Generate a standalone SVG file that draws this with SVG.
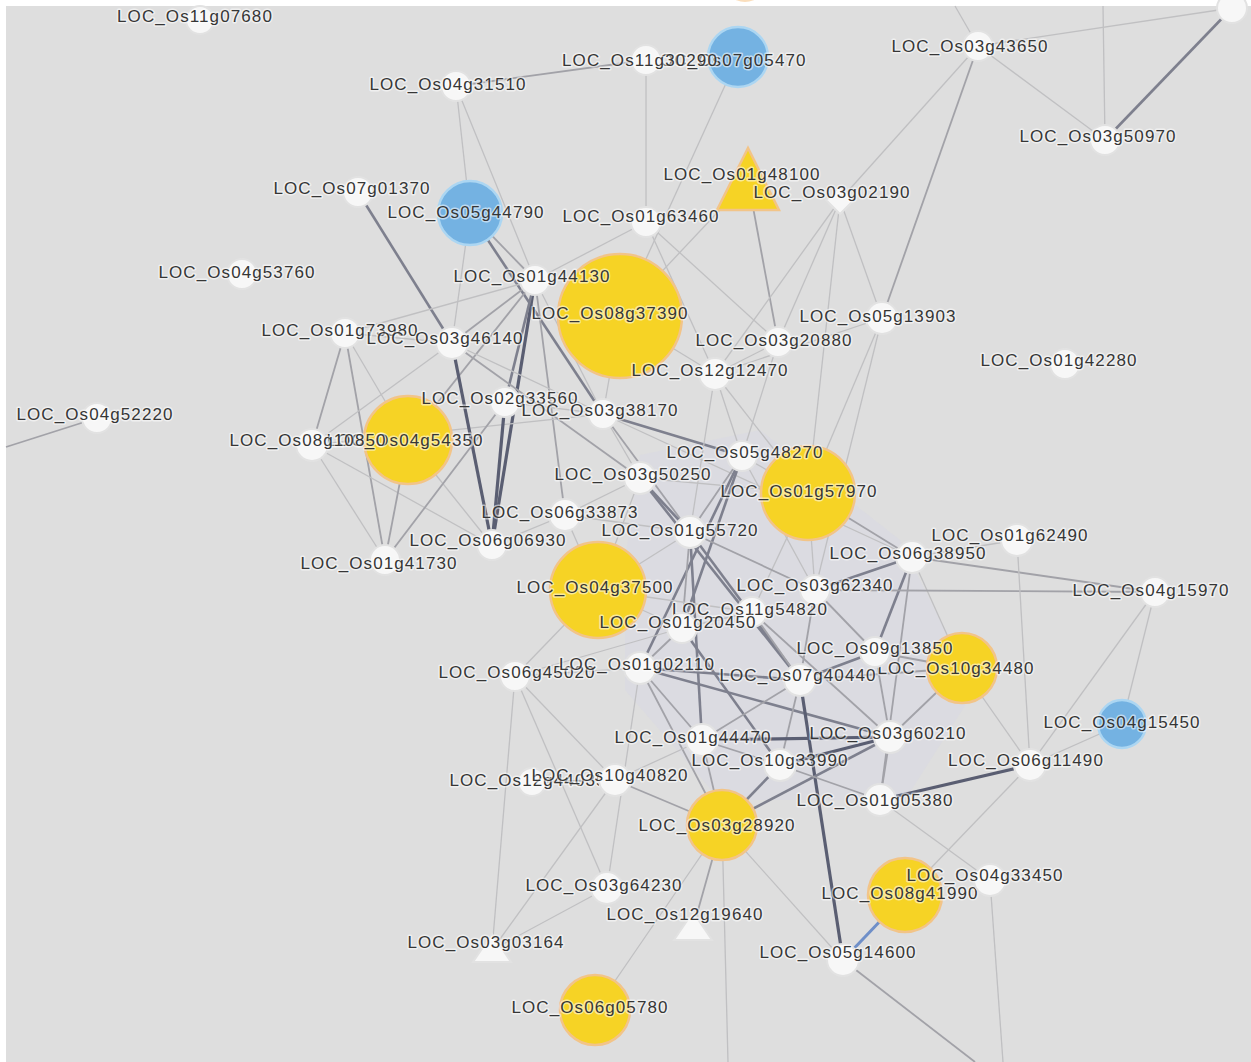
<svg xmlns="http://www.w3.org/2000/svg" width="1251" height="1062" viewBox="0 0 1251 1062">
<defs>
<style>
.l{stroke:#c0c0c2;stroke-width:1.3;fill:none}
.m{stroke:#a2a2a8;stroke-width:1.8;fill:none}
.d{stroke:#7e808e;stroke-width:2.6;fill:none}
.x{stroke:#5a5e72;stroke-width:3.2;fill:none}
.b{stroke:#6f8fc8;stroke-width:3;fill:none}
.w{fill:#f7f7f7;stroke:#e2e2e2;stroke-width:2}
.y{fill:#f6d325;stroke:#f2c488;stroke-width:2.5}
.u{fill:#74b2e2;stroke:#acd6f2;stroke-width:2.5}
text{font-family:"Liberation Sans",Arial,sans-serif;font-size:17px;letter-spacing:1.1px;fill:#363636;text-anchor:middle;stroke:#ffffff;stroke-width:3;stroke-opacity:0.55;paint-order:stroke;stroke-linejoin:round}
</style>
</defs>
<rect x="0" y="0" width="1251" height="1062" fill="#ffffff"/>
<rect x="6" y="6" width="1245" height="1056" fill="#dedede"/>
<polygon points="640,455 760,430 900,540 975,690 905,800 720,800 625,690 625,560" fill="#d4d4e8" opacity="0.28"/>
<g id="connectors">
<line class="m" x1="456" y1="86" x2="646" y2="60"/>
<line class="l" x1="456" y1="86" x2="470" y2="213"/>
<line class="l" x1="456" y1="86" x2="535" y2="280"/>
<line class="l" x1="646" y1="60" x2="646" y2="222"/>
<line class="l" x1="738" y1="57" x2="620" y2="316"/>
<line class="m" x1="748" y1="180" x2="778" y2="342"/>
<line class="l" x1="748" y1="180" x2="620" y2="316"/>
<line class="l" x1="840" y1="200" x2="778" y2="342"/>
<line class="l" x1="840" y1="200" x2="882" y2="318"/>
<line class="l" x1="840" y1="200" x2="715" y2="374"/>
<line class="l" x1="840" y1="200" x2="808" y2="493"/>
<line class="m" x1="978" y1="46" x2="882" y2="318"/>
<line class="l" x1="978" y1="46" x2="840" y2="200"/>
<line class="l" x1="978" y1="46" x2="1105" y2="140"/>
<line class="l" x1="978" y1="46" x2="1232" y2="8"/>
<line class="d" x1="1105" y1="140" x2="1232" y2="8"/>
<line class="l" x1="1105" y1="140" x2="1103" y2="6"/>
<line class="l" x1="978" y1="46" x2="955" y2="6"/>
<line class="d" x1="358" y1="192" x2="452" y2="343"/>
<line class="m" x1="470" y1="213" x2="535" y2="280"/>
<line class="d" x1="470" y1="213" x2="603" y2="414"/>
<line class="l" x1="470" y1="213" x2="452" y2="343"/>
<line class="x" x1="535" y1="280" x2="492" y2="545"/>
<line class="m" x1="535" y1="280" x2="452" y2="343"/>
<line class="m" x1="535" y1="280" x2="408" y2="440"/>
<line class="l" x1="535" y1="280" x2="345" y2="333"/>
<line class="d" x1="535" y1="280" x2="505" y2="402"/>
<line class="m" x1="535" y1="280" x2="565" y2="515"/>
<line class="l" x1="535" y1="280" x2="603" y2="414"/>
<line class="l" x1="535" y1="280" x2="646" y2="222"/>
<line class="l" x1="646" y1="222" x2="715" y2="374"/>
<line class="l" x1="646" y1="222" x2="778" y2="342"/>
<line class="l" x1="620" y1="316" x2="715" y2="374"/>
<line class="l" x1="620" y1="316" x2="603" y2="414"/>
<line class="l" x1="882" y1="318" x2="715" y2="374"/>
<line class="l" x1="882" y1="318" x2="808" y2="493"/>
<line class="l" x1="882" y1="318" x2="815" y2="590"/>
<line class="l" x1="778" y1="342" x2="715" y2="374"/>
<line class="l" x1="778" y1="342" x2="742" y2="456"/>
<line class="m" x1="345" y1="333" x2="312" y2="445"/>
<line class="m" x1="345" y1="333" x2="385" y2="560"/>
<line class="l" x1="345" y1="333" x2="452" y2="343"/>
<line class="l" x1="345" y1="333" x2="408" y2="440"/>
<line class="l" x1="312" y1="445" x2="385" y2="560"/>
<line class="l" x1="312" y1="445" x2="452" y2="343"/>
<line class="l" x1="312" y1="445" x2="492" y2="545"/>
<line class="l" x1="312" y1="445" x2="603" y2="414"/>
<line class="x" x1="452" y1="343" x2="492" y2="545"/>
<line class="m" x1="452" y1="343" x2="640" y2="478"/>
<line class="l" x1="452" y1="343" x2="603" y2="414"/>
<line class="x" x1="505" y1="402" x2="492" y2="545"/>
<line class="l" x1="505" y1="402" x2="603" y2="414"/>
<line class="m" x1="408" y1="440" x2="385" y2="560"/>
<line class="l" x1="408" y1="440" x2="492" y2="545"/>
<line class="m" x1="385" y1="560" x2="505" y2="402"/>
<line class="m" x1="97" y1="418" x2="6" y2="447"/>
<line class="d" x1="603" y1="414" x2="742" y2="456"/>
<line class="m" x1="603" y1="414" x2="690" y2="532"/>
<line class="l" x1="603" y1="414" x2="640" y2="478"/>
<line class="l" x1="603" y1="414" x2="912" y2="557"/>
<line class="l" x1="715" y1="374" x2="742" y2="456"/>
<line class="l" x1="715" y1="374" x2="690" y2="532"/>
<line class="l" x1="715" y1="374" x2="808" y2="493"/>
<line class="d" x1="640" y1="478" x2="690" y2="532"/>
<line class="l" x1="640" y1="478" x2="565" y2="515"/>
<line class="l" x1="640" y1="478" x2="808" y2="493"/>
<line class="d" x1="640" y1="478" x2="800" y2="680"/>
<line class="l" x1="565" y1="515" x2="492" y2="545"/>
<line class="l" x1="565" y1="515" x2="690" y2="532"/>
<line class="l" x1="565" y1="515" x2="598" y2="590"/>
<line class="l" x1="742" y1="456" x2="808" y2="493"/>
<line class="m" x1="742" y1="456" x2="690" y2="532"/>
<line class="d" x1="742" y1="456" x2="682" y2="628"/>
<line class="d" x1="742" y1="456" x2="640" y2="668"/>
<line class="l" x1="742" y1="456" x2="815" y2="590"/>
<line class="m" x1="808" y1="493" x2="912" y2="557"/>
<line class="l" x1="808" y1="493" x2="815" y2="590"/>
<line class="l" x1="808" y1="493" x2="752" y2="612"/>
<line class="d" x1="690" y1="532" x2="800" y2="680"/>
<line class="m" x1="690" y1="532" x2="682" y2="628"/>
<line class="d" x1="690" y1="532" x2="702" y2="740"/>
<line class="l" x1="690" y1="532" x2="598" y2="590"/>
<line class="m" x1="690" y1="532" x2="815" y2="590"/>
<line class="d" x1="912" y1="557" x2="815" y2="590"/>
<line class="d" x1="912" y1="557" x2="875" y2="652"/>
<line class="m" x1="912" y1="557" x2="1155" y2="592"/>
<line class="m" x1="912" y1="557" x2="880" y2="800"/>
<line class="l" x1="912" y1="557" x2="1017" y2="540"/>
<line class="l" x1="912" y1="557" x2="962" y2="668"/>
<line class="m" x1="815" y1="590" x2="1155" y2="592"/>
<line class="m" x1="815" y1="590" x2="875" y2="652"/>
<line class="m" x1="815" y1="590" x2="800" y2="680"/>
<line class="m" x1="752" y1="612" x2="800" y2="680"/>
<line class="l" x1="752" y1="612" x2="682" y2="628"/>
<line class="m" x1="752" y1="612" x2="890" y2="737"/>
<line class="m" x1="682" y1="628" x2="640" y2="668"/>
<line class="d" x1="682" y1="628" x2="780" y2="765"/>
<line class="l" x1="682" y1="628" x2="598" y2="590"/>
<line class="d" x1="640" y1="668" x2="800" y2="680"/>
<line class="m" x1="640" y1="668" x2="702" y2="740"/>
<line class="l" x1="640" y1="668" x2="515" y2="676"/>
<line class="m" x1="640" y1="668" x2="722" y2="825"/>
<line class="d" x1="640" y1="668" x2="890" y2="737"/>
<line class="d" x1="800" y1="680" x2="875" y2="652"/>
<line class="m" x1="800" y1="680" x2="702" y2="740"/>
<line class="m" x1="800" y1="680" x2="780" y2="765"/>
<line class="x" x1="800" y1="680" x2="843" y2="960"/>
<line class="m" x1="800" y1="680" x2="962" y2="668"/>
<line class="m" x1="875" y1="652" x2="962" y2="668"/>
<line class="m" x1="875" y1="652" x2="890" y2="737"/>
<line class="l" x1="962" y1="668" x2="1030" y2="765"/>
<line class="m" x1="962" y1="668" x2="890" y2="737"/>
<line class="x" x1="702" y1="740" x2="890" y2="737"/>
<line class="m" x1="702" y1="740" x2="780" y2="765"/>
<line class="m" x1="702" y1="740" x2="722" y2="825"/>
<line class="l" x1="702" y1="740" x2="615" y2="780"/>
<line class="x" x1="890" y1="737" x2="780" y2="765"/>
<line class="m" x1="890" y1="737" x2="880" y2="800"/>
<line class="d" x1="890" y1="737" x2="722" y2="825"/>
<line class="d" x1="780" y1="765" x2="722" y2="825"/>
<line class="m" x1="780" y1="765" x2="880" y2="800"/>
<line class="m" x1="615" y1="780" x2="722" y2="825"/>
<line class="l" x1="615" y1="780" x2="515" y2="676"/>
<line class="m" x1="532" y1="782" x2="615" y2="780"/>
<line class="x" x1="880" y1="800" x2="1030" y2="765"/>
<line class="l" x1="880" y1="800" x2="990" y2="880"/>
<line class="l" x1="1030" y1="765" x2="905" y2="895"/>
<line class="l" x1="1030" y1="765" x2="1155" y2="592"/>
<line class="l" x1="1030" y1="765" x2="1122" y2="724"/>
<line class="l" x1="1122" y1="724" x2="1155" y2="592"/>
<line class="l" x1="1017" y1="540" x2="1030" y2="765"/>
<line class="b" x1="905" y1="895" x2="843" y2="960"/>
<line class="l" x1="990" y1="880" x2="1003" y2="1062"/>
<line class="m" x1="843" y1="960" x2="975" y2="1062"/>
<line class="l" x1="843" y1="960" x2="722" y2="825"/>
<line class="m" x1="722" y1="825" x2="693" y2="928"/>
<line class="l" x1="722" y1="825" x2="728" y2="1062"/>
<line class="l" x1="595" y1="1010" x2="722" y2="825"/>
<line class="l" x1="607" y1="888" x2="492" y2="950"/>
<line class="l" x1="492" y1="950" x2="615" y2="780"/>
<line class="l" x1="607" y1="888" x2="640" y2="668"/>
<line class="l" x1="607" y1="888" x2="515" y2="676"/>
<line class="l" x1="492" y1="950" x2="515" y2="676"/>
<line class="l" x1="515" y1="676" x2="598" y2="590"/>
<line class="l" x1="515" y1="676" x2="682" y2="628"/>
<line class="l" x1="598" y1="590" x2="640" y2="478"/>
<line class="l" x1="598" y1="590" x2="752" y2="612"/>
</g>
<g id="n0"><circle cx="745" cy="-20" r="22" fill="#f6c890" opacity="0.6"/></g>
<g id="n4"><circle cx="738" cy="57" r="30" class="u"/><text x="728" y="66">LOC_Os07g05470</text></g>
<g id="n9"><circle cx="470" cy="213" r="32" class="u"/><text x="466" y="218">LOC_Os05g44790</text></g>
<g id="n10"><polygon points="748,148 717,210 779,210" class="y"/><text x="742" y="180">LOC_Os01g48100</text></g>
<g id="n15"><circle cx="620" cy="316" r="62" class="y"/><text x="610" y="319">LOC_Os08g37390</text></g>
<g id="n26"><circle cx="408" cy="440" r="44" class="y"/><text x="405" y="446">LOC_Os04g54350</text></g>
<g id="n29"><circle cx="808" cy="493" r="47" class="y"/><text x="799" y="497">LOC_Os01g57970</text></g>
<g id="n36"><circle cx="598" cy="590" r="48" class="y"/><text x="595" y="593">LOC_Os04g37500</text></g>
<g id="n42"><circle cx="962" cy="668" r="35" class="y"/><text x="956" y="674">LOC_Os10g34480</text></g>
<g id="n46"><circle cx="1122" cy="724" r="24" class="u"/><text x="1122" y="728">LOC_Os04g15450</text></g>
<g id="n54"><circle cx="722" cy="825" r="35" class="y"/><text x="717" y="831">LOC_Os03g28920</text></g>
<g id="n56"><circle cx="905" cy="895" r="37" class="y"/><text x="900" y="899">LOC_Os08g41990</text></g>
<g id="n61"><circle cx="595" cy="1010" r="35" class="y"/><text x="590" y="1013">LOC_Os06g05780</text></g>
<g id="n1"><circle cx="200" cy="20" r="14" class="w"/><text x="195" y="22">LOC_Os11g07680</text></g>
<g id="n2"><circle cx="456" cy="86" r="15" class="w"/><text x="448" y="90">LOC_Os04g31510</text></g>
<g id="n3"><circle cx="646" cy="60" r="15" class="w"/><text x="640" y="66">LOC_Os11g30290</text></g>
<g id="n5"><circle cx="978" cy="46" r="15" class="w"/><text x="970" y="52">LOC_Os03g43650</text></g>
<g id="n6"><circle cx="1105" cy="140" r="15" class="w"/><text x="1098" y="142">LOC_Os03g50970</text></g>
<g id="n7"><circle cx="1232" cy="8" r="15" class="w"/></g>
<g id="n8"><circle cx="358" cy="192" r="15" class="w"/><text x="352" y="194">LOC_Os07g01370</text></g>
<g id="n11"><polygon points="840,186 854,200 840,214 826,200" class="w"/><text x="832" y="198">LOC_Os03g02190</text></g>
<g id="n12"><circle cx="646" cy="222" r="15" class="w"/><text x="641" y="222">LOC_Os01g63460</text></g>
<g id="n13"><circle cx="242" cy="274" r="15" class="w"/><text x="237" y="278">LOC_Os04g53760</text></g>
<g id="n14"><circle cx="535" cy="280" r="15" class="w"/><text x="532" y="282">LOC_Os01g44130</text></g>
<g id="n16"><circle cx="882" cy="318" r="16" class="w"/><text x="878" y="322">LOC_Os05g13903</text></g>
<g id="n17"><circle cx="778" cy="342" r="15" class="w"/><text x="774" y="346">LOC_Os03g20880</text></g>
<g id="n18"><circle cx="1065" cy="364" r="15" class="w"/><text x="1059" y="366">LOC_Os01g42280</text></g>
<g id="n19"><circle cx="345" cy="333" r="15" class="w"/><text x="340" y="336">LOC_Os01g73980</text></g>
<g id="n20"><circle cx="452" cy="343" r="16" class="w"/><text x="445" y="344">LOC_Os03g46140</text></g>
<g id="n21"><circle cx="715" cy="374" r="16" class="w"/><text x="710" y="376">LOC_Os12g12470</text></g>
<g id="n22"><circle cx="97" cy="418" r="15" class="w"/><text x="95" y="420">LOC_Os04g52220</text></g>
<g id="n23"><circle cx="505" cy="402" r="15" class="w"/><text x="500" y="404">LOC_Os02g33560</text></g>
<g id="n24"><circle cx="603" cy="414" r="15" class="w"/><text x="600" y="416">LOC_Os03g38170</text></g>
<g id="n25"><circle cx="312" cy="445" r="16" class="w"/><text x="308" y="446">LOC_Os08g10850</text></g>
<g id="n27"><circle cx="742" cy="456" r="15" class="w"/><text x="745" y="458">LOC_Os05g48270</text></g>
<g id="n28"><circle cx="640" cy="478" r="16" class="w"/><text x="633" y="480">LOC_Os03g50250</text></g>
<g id="n30"><circle cx="565" cy="515" r="16" class="w"/><text x="560" y="518">LOC_Os06g33873</text></g>
<g id="n31"><circle cx="690" cy="532" r="16" class="w"/><text x="680" y="536">LOC_Os01g55720</text></g>
<g id="n32"><circle cx="492" cy="545" r="15" class="w"/><text x="488" y="546">LOC_Os06g06930</text></g>
<g id="n33"><circle cx="385" cy="560" r="15" class="w"/><text x="379" y="569">LOC_Os01g41730</text></g>
<g id="n34"><circle cx="1017" cy="540" r="16" class="w"/><text x="1010" y="541">LOC_Os01g62490</text></g>
<g id="n35"><circle cx="912" cy="557" r="16" class="w"/><text x="908" y="559">LOC_Os06g38950</text></g>
<g id="n37"><circle cx="815" cy="590" r="15" class="w"/><text x="815" y="591">LOC_Os03g62340</text></g>
<g id="n38"><circle cx="1155" cy="592" r="15" class="w"/><text x="1151" y="596">LOC_Os04g15970</text></g>
<g id="n39"><circle cx="752" cy="612" r="15" class="w"/><text x="750" y="615">LOC_Os11g54820</text></g>
<g id="n40"><circle cx="682" cy="628" r="15" class="w"/><text x="678" y="628">LOC_Os01g20450</text></g>
<g id="n41"><circle cx="875" cy="652" r="15" class="w"/><text x="875" y="654">LOC_Os09g13850</text></g>
<g id="n43"><circle cx="515" cy="676" r="15" class="w"/><text x="517" y="678">LOC_Os06g45020</text></g>
<g id="n44"><circle cx="640" cy="668" r="16" class="w"/><text x="637" y="670">LOC_Os01g02110</text></g>
<g id="n45"><circle cx="800" cy="680" r="16" class="w"/><text x="798" y="681">LOC_Os07g40440</text></g>
<g id="n47"><circle cx="702" cy="740" r="16" class="w"/><text x="693" y="743">LOC_Os01g44470</text></g>
<g id="n48"><circle cx="890" cy="737" r="16" class="w"/><text x="888" y="739">LOC_Os03g60210</text></g>
<g id="n49"><circle cx="1030" cy="765" r="16" class="w"/><text x="1026" y="766">LOC_Os06g11490</text></g>
<g id="n50"><circle cx="780" cy="765" r="16" class="w"/><text x="770" y="766">LOC_Os10g33990</text></g>
<g id="n51"><circle cx="532" cy="782" r="14" class="w"/><text x="528" y="786">LOC_Os12g44035</text></g>
<g id="n52"><circle cx="615" cy="780" r="16" class="w"/><text x="610" y="781">LOC_Os10g40820</text></g>
<g id="n53"><circle cx="880" cy="800" r="16" class="w"/><text x="875" y="806">LOC_Os01g05380</text></g>
<g id="n55"><circle cx="990" cy="880" r="16" class="w"/><text x="985" y="881">LOC_Os04g33450</text></g>
<g id="n57"><circle cx="607" cy="888" r="16" class="w"/><text x="604" y="891">LOC_Os03g64230</text></g>
<g id="n58"><polygon points="693,912 674,940 712,940" class="w"/><text x="685" y="920">LOC_Os12g19640</text></g>
<g id="n59"><polygon points="492,934 473,962 511,962" class="w"/><text x="486" y="948">LOC_Os03g03164</text></g>
<g id="n60"><circle cx="843" cy="960" r="16" class="w"/><text x="838" y="958">LOC_Os05g14600</text></g>
</svg>
